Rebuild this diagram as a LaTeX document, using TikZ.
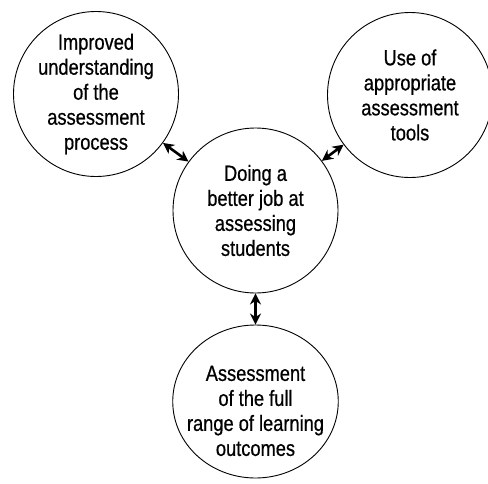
\documentclass[tikz,border=0pt]{standalone}
\usepackage{fontspec}
\setmainfont{Liberation Sans}[FakeStretch=0.83,FakeBold=0.6]
\usetikzlibrary{arrows.meta,shapes.geometric}

\tikzset{
	bubble/.style={draw,circle,line width=0.9pt,minimum size=165pt,inner sep=-10pt,align=center,
		font=\fontsize{22}{25}\selectfont},
	link/.style={{Stealth[length=11pt,width=11pt]}-{Stealth[length=11pt,width=11pt]},line width=2.6pt}
}

\begin{document}
\begin{tikzpicture}[x=1pt,y=-1pt]
			\useasboundingbox (0,0) rectangle (488,483);
			\node[bubble] (underst) at (96,94) {Improved\\understanding\\of the\\assessment\\process};
			\node[bubble] (tools) at (410,95) {Use of\\appropriate\\assessment\\tools};
			\node[bubble] (job) at (255.5,210.5) {Doing a\\better job at\\assessing\\students};
			% text sits a little below the middle of the lower bubble
			\node[bubble,ellipse,minimum width=165pt,minimum height=153pt] (range) at (255.5,401.5)
				{\rule{0pt}{34pt}Assessment\\of the full\\range of learning\\outcomes};

			\draw [link] (underst)--(job);
			\draw [link] (tools)--(job);
			\draw [link] (job)--(range);
			\end{tikzpicture}
\end{document}
